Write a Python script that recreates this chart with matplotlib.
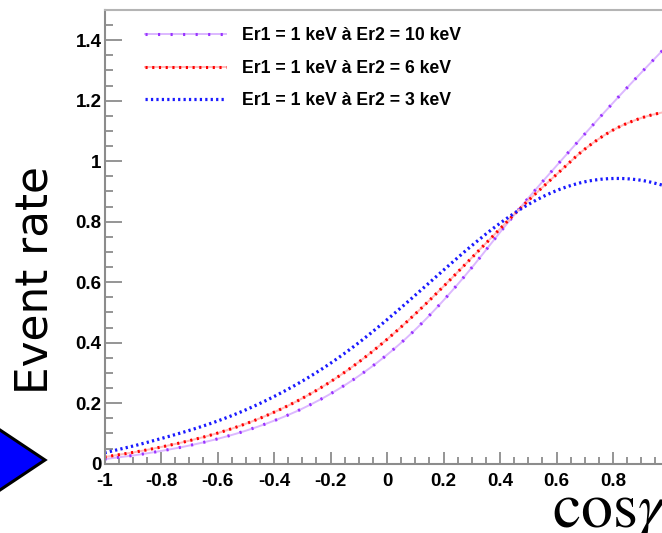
import numpy as np
import matplotlib
matplotlib.use('Agg')
import matplotlib.pyplot as plt
from matplotlib.patches import Polygon
from matplotlib.ticker import MultipleLocator, FuncFormatter
from matplotlib.legend_handler import HandlerTuple

# cos(gamma) sampling
cos_gamma = [-1.0, -0.9, -0.8, -0.7, -0.6, -0.5, -0.4, -0.3, -0.2, -0.1, 0.0,
             0.1, 0.2, 0.3, 0.4, 0.5, 0.6, 0.7, 0.8, 0.9, 1.0]

# Er2 = 10 keV
rate_10kev = [0.015, 0.027, 0.042, 0.060, 0.082, 0.109, 0.142, 0.182, 0.231, 0.290, 0.360,
              0.443, 0.540, 0.648, 0.765, 0.878, 0.985, 1.090, 1.193, 1.293, 1.390]
# Er2 = 6 keV
rate_6kev = [0.022, 0.037, 0.055, 0.076, 0.101, 0.132, 0.170, 0.216, 0.271, 0.336, 0.411,
             0.495, 0.586, 0.681, 0.777, 0.870, 0.956, 1.040, 1.103, 1.143, 1.167]
# Er2 = 3 keV
rate_3kev = [0.036, 0.058, 0.083, 0.110, 0.141, 0.178, 0.222, 0.273, 0.332, 0.400, 0.476,
             0.557, 0.640, 0.721, 0.795, 0.857, 0.903, 0.932, 0.943, 0.937, 0.915]

labels = ['Er1 = 1 keV à Er2 = 10 keV',
          'Er1 = 1 keV à Er2 = 6 keV',
          'Er1 = 1 keV à Er2 = 3 keV']

W, H = 662, 533
fig = plt.figure(figsize=(W / 100, H / 100), dpi=100)

# axes in pixel coords: x from 104.5 to 669.5 (cut off on the right), y from 10 to 463.7
ax = fig.add_axes([104.5 / W, 1 - 463.7 / H, 565 / W, 453.7 / H])


# Catmull-Rom curve through the read points
def smooth(x, y, n=12):
    x = np.asarray(x, float)
    y = np.asarray(y, float)
    px = np.concatenate([[2 * x[0] - x[1]], x, [2 * x[-1] - x[-2]]])
    py = np.concatenate([[2 * y[0] - y[1]], y, [2 * y[-1] - y[-2]]])
    ox, oy = [], []
    for i in range(1, len(px) - 2):
        t = np.linspace(0, 1, n, endpoint=False)
        for arr, out in ((px, ox), (py, oy)):
            p0, p1, p2, p3 = arr[i - 1], arr[i], arr[i + 1], arr[i + 2]
            out.extend(0.5 * (2 * p1 + (-p0 + p2) * t + (2 * p0 - 5 * p1 + 4 * p2 - p3) * t ** 2
                              + (-p0 + 3 * p1 - 3 * p2 + p3) * t ** 3))
    ox.append(x[-1])
    oy.append(y[-1])
    return np.array(ox), np.array(oy)


x10, y10 = smooth(cos_gamma, rate_10kev)
x6, y6 = smooth(cos_gamma, rate_6kev)
x3, y3 = smooth(cos_gamma, rate_3kev)

# 10 keV: light violet line with sparse dark violet dots
l1a, = ax.plot(x10, y10, color='#dcb8ff', lw=1.4)
l1b, = ax.plot(x10, y10, color='#9933ff', lw=2.2, linestyle=(0, (0.7, 3.4)))
# 6 keV
l2a, = ax.plot(x6, y6, color='#ffbcbc', lw=1.4)
l2b, = ax.plot(x6, y6, color='#ff0000', lw=2.2, linestyle=(0, (0.7, 1.5)))
# 3 keV
l3, = ax.plot(x3, y3, color='#1a1aff', lw=2.3, linestyle=(0, (0.7, 1.0)))

ax.set_xlim(-1, 1)
ax.set_ylim(0, 1.5)

fmt_y = FuncFormatter(lambda v, p: '%g' % round(v, 2))
fmt_x = FuncFormatter(lambda v, p: '' if v > 0.99 else '%g' % round(v, 2))
ax.xaxis.set_major_locator(MultipleLocator(0.2))
ax.xaxis.set_minor_locator(MultipleLocator(0.05))
ax.yaxis.set_major_locator(MultipleLocator(0.2))
ax.yaxis.set_minor_locator(MultipleLocator(0.05))
ax.xaxis.set_major_formatter(fmt_x)
ax.yaxis.set_major_formatter(fmt_y)

frame_col = '#8c8c8c'
ax.tick_params(axis='both', which='both', direction='in', color=frame_col, width=1.3,
               labelsize=13.5, top=False, right=False)
ax.tick_params(axis='y', which='major', length=12, pad=2)
ax.tick_params(axis='y', which='minor', length=6)
ax.tick_params(axis='x', which='major', length=8.5, pad=7)
ax.tick_params(axis='x', which='minor', length=5)
for t in ax.get_xticklabels() + ax.get_yticklabels():
    t.set_fontfamily('Liberation Sans')
    t.set_fontweight('bold')
for s in ax.spines.values():
    s.set_color(frame_col)
    s.set_linewidth(1.5)
ax.spines['top'].set_color('#b4b4b4')

leg = ax.legend([(l1a, l1b), (l2a, l2b), (l3,)], labels,
                handler_map={tuple: HandlerTuple(ndivide=1, pad=0)},
                loc='upper left', bbox_to_anchor=(0.0717, 0.962), frameon=False,
                borderpad=0, borderaxespad=0, handlelength=4.6, handletextpad=0.9,
                labelspacing=0.88, prop={'family': 'Liberation Sans', 'weight': 'bold', 'size': 12.7})

# y label and x label placed like in the slide
fig.text(35 / W, 1 - 280 / H, 'Event rate', rotation=90, ha='center', va='center',
         fontsize=31.5, family='DejaVu Sans')
fig.text(551.7 / W, 1 - 527 / H, r'$\mathrm{cos}\gamma$', ha='left', va='baseline',
         fontsize=46, math_fontfamily='stix')

# blue arrow triangle at left
tri = Polygon([(-15 / W, 1 - 420 / H), (45 / W, 1 - 460 / H), (-15 / W, 1 - 500 / H)],
              closed=True, facecolor='#0000ff', edgecolor='black', lw=2.2,
              transform=fig.transFigure, clip_on=False)
fig.patches.append(tri)

fig.savefig('out.png', dpi=100)
